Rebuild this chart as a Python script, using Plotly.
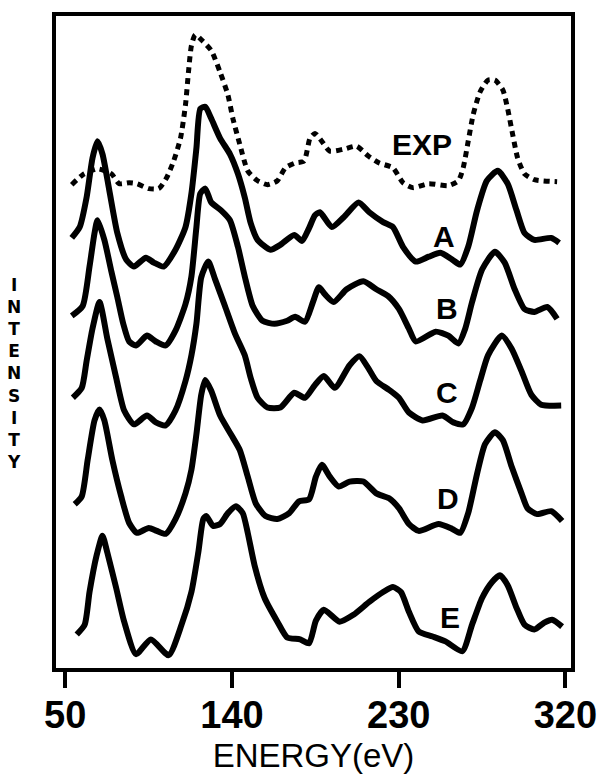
import plotly.graph_objects as go

# Photoemission-type spectra: experiment (dotted) and five model curves A-E.
# Intensities are in arbitrary units; each curve carries its own vertical offset.

exp_energy = [53.5, 59.4, 67.4, 74.9, 79.1, 84.5, 88.7, 95.1, 100.5, 104.7, 108.5, 112.2, 114.9, 116.5,
              118.1, 120.2, 123.4, 128.8, 133.6, 137.8, 140.5, 144.2, 148.5, 153.8, 159.2, 164.5, 168.8,
              174.1, 178.9, 182.1, 184.8, 188.5, 192.8, 200.3, 207.2, 213.6, 219.5, 226.9, 232.3, 237.6,
              246.2, 256.8, 262.2, 264.8, 267.5, 270.2, 273.9, 278.2, 281.9, 286.2, 288.8, 291.5, 294.2,
              297.9, 303.2, 315.5]
exp_intensity = [490, 500, 506, 501, 491, 492, 491, 486, 486, 497, 514, 537, 571, 604, 631, 642, 637, 626,
                 604, 581, 557, 531, 504, 494, 490, 494, 507, 512, 514, 537, 542, 534, 524, 526, 529, 519,
                 512, 507, 492, 487, 491, 489, 494, 507, 534, 561, 584, 596, 596, 586, 567, 541, 517, 501,
                 495, 493]

a_energy = [53.5, 57.8, 61.5, 64.7, 67.4, 70.1, 73.8, 78.1, 82.9, 87.1, 93.5, 97.8, 103.1, 109.5, 114.9,
            118.1, 120.8, 122.9, 125.6, 128.8, 133.6, 138.9, 143.2, 146.9, 150.1, 153.8, 160.8, 166.1,
            173.6, 177.8, 181.6, 184.8, 187.5, 193.9, 200.3, 208.3, 214.1, 221.6, 226.9, 232.3, 239.2,
            246.2, 252.5, 258.9, 263.2, 267.5, 272.3, 277.6, 283.5, 288.8, 293.6, 297.9, 303.2, 312.3, 316.6]
a_intensity = [436, 447, 477, 517, 534, 521, 484, 441, 414, 407, 416, 411, 407, 424, 447, 481, 527, 567,
               569, 557, 537, 521, 501, 477, 451, 434, 424, 429, 439, 433, 446, 459, 462, 447, 457, 472,
               462, 452, 447, 427, 412, 417, 421, 414, 409, 427, 464, 494, 504, 491, 464, 441, 434, 436, 431]

b_energy = [53.5, 59.4, 63.1, 65.8, 67.4, 71.1, 74.9, 78.1, 81.3, 84.5, 88.2, 94.1, 98.9, 104.2, 109.5,
            114.9, 118.1, 120.8, 122.9, 125.6, 128.8, 134.1, 138.9, 143.2, 146.9, 151.2, 156.5, 162.9,
            169.8, 174.1, 179.4, 183.7, 186.9, 190.1, 194.9, 201.9, 210.9, 217.9, 224.3, 230.1, 235.5,
            239.2, 249.9, 256.8, 262.2, 265.9, 269.6, 275.0, 281.9, 287.2, 292.6, 297.9, 303.2, 310.2, 315.5]
b_intensity = [357, 367, 407, 441, 454, 434, 402, 376, 349, 331, 327, 337, 331, 327, 342, 369, 397, 447,
               481, 486, 472, 464, 454, 427, 397, 367, 352, 349, 352, 356, 351, 371, 386, 379, 371, 384,
               392, 384, 377, 364, 344, 331, 341, 337, 329, 344, 371, 404, 422, 411, 384, 364, 361, 366, 354]

c_energy = [54.1, 58.9, 61.5, 64.7, 68.5, 72.7, 77.5, 81.8, 87.1, 94.1, 98.9, 104.2, 109.5, 114.9, 118.1,
            120.8, 123.4, 127.2, 130.9, 136.2, 141.6, 146.9, 150.1, 153.8, 159.2, 166.1, 173.6, 179.4,
            184.8, 189.6, 195.5, 203.5, 208.8, 213.6, 217.9, 224.8, 230.1, 235.5, 242.9, 253.6, 259.5,
            264.8, 269.6, 273.9, 278.2, 285.6, 290.9, 296.3, 301.6, 306.9, 317.7]
c_intensity = [274, 284, 311, 344, 371, 334, 294, 261, 247, 256, 249, 246, 261, 291, 317, 349, 396, 412,
               394, 367, 339, 317, 294, 274, 264, 264, 279, 274, 287, 296, 284, 307, 316, 304, 291, 282,
               274, 259, 251, 256, 249, 247, 264, 291, 317, 337, 324, 301, 277, 267, 266]

d_energy = [55.1, 58.9, 62.1, 65.8, 68.5, 71.1, 75.4, 80.2, 84.5, 88.7, 95.1, 99.4, 104.2, 109.5, 114.9,
            118.1, 120.8, 123.4, 125.6, 128.8, 133.6, 139.4, 144.2, 148.5, 152.8, 158.1, 164.5, 170.9,
            176.2, 181.6, 185.3, 188.5, 192.8, 197.6, 203.5, 210.9, 217.9, 224.8, 230.1, 235.5, 240.8,
            251.5, 258.9, 263.2, 267.5, 272.3, 276.6, 281.9, 286.2, 291.0, 296.3, 299.5, 304.8, 312.3, 318.2]
d_intensity = [166, 174, 211, 251, 262, 251, 211, 174, 147, 137, 142, 139, 136, 151, 177, 201, 237, 277,
               292, 281, 256, 237, 221, 194, 167, 154, 151, 157, 169, 171, 194, 206, 194, 184, 189, 189,
               177, 172, 162, 146, 139, 146, 141, 137, 157, 197, 227, 239, 231, 204, 177, 162, 156, 159, 149]

e_energy = [56.2, 60.5, 63.1, 66.9, 70.1, 72.7, 77.5, 81.8, 88.2, 96.2, 105.8, 112.8, 118.1, 121.8, 124.5,
            126.1, 129.8, 133.6, 137.8, 142.1, 145.8, 148.5, 152.2, 157.6, 164.5, 169.8, 176.8, 181.6,
            185.3, 189.6, 198.1, 205.6, 214.1, 221.6, 226.9, 231.2, 235.5, 240.8, 248.3, 255.2, 264.3,
            269.6, 275.0, 280.3, 284.6, 288.8, 293.6, 297.9, 303.2, 308.6, 312.8, 318.2]
e_intensity = [34, 44, 77, 114, 134, 117, 81, 47, 14, 29, 13, 44, 77, 117, 151, 154, 144, 146, 157, 164,
               157, 137, 104, 71, 47, 31, 29, 25, 48, 59, 47, 54, 67, 77, 82, 77, 57, 37, 32, 27, 17, 44,
               71, 87, 94, 84, 61, 44, 39, 46, 49, 42]

# Curve labels and where they sit (energy, intensity)
label_text = ["EXP", "A", "B", "C", "D", "E"]
label_energy = [242.5, 254.2, 256.3, 256.3, 256.8, 257.9]
label_intensity = [531, 437, 364, 279, 172, 51]

tick_values = [50, 140, 230, 320]
tick_labels = ["50", "140", "230", "320"]

FONT = "Liberation Sans, Arial, sans-serif"

fig = go.Figure()

fig.add_trace(go.Scatter(x=exp_energy, y=exp_intensity, mode="lines",
                         line=dict(color="black", width=5, dash="6px,5px", shape="spline", smoothing=0.6),
                         showlegend=False, hoverinfo="skip"))

for xs, ys in [(a_energy, a_intensity), (b_energy, b_intensity), (c_energy, c_intensity),
               (d_energy, d_intensity), (e_energy, e_intensity)]:
    fig.add_trace(go.Scatter(x=xs, y=ys, mode="lines",
                             line=dict(color="black", width=6, shape="spline", smoothing=0.6),
                             showlegend=False, hoverinfo="skip"))

for txt, lx, ly in zip(label_text, label_energy, label_intensity):
    fig.add_annotation(x=lx, y=ly, text=f"<b>{txt}</b>", showarrow=False,
                       font=dict(family=FONT, size=30, color="black"))

# Vertical, letter-stacked y-axis caption
fig.add_annotation(xref="paper", yref="paper", x=-0.081, y=0.452, xanchor="center", yanchor="middle",
                   text="<br>".join(f"<b>{ch}</b>" for ch in "INTENSITY"), showarrow=False,
                   font=dict(family="DejaVu Sans, sans-serif", size=17, color="black"))

fig.update_layout(
    width=609, height=781,
    margin=dict(l=56, r=32, t=13, b=107),
    paper_bgcolor="white", plot_bgcolor="white",
    xaxis=dict(range=[45.0, 323.0], tickvals=tick_values, ticktext=tick_labels,
               ticks="outside", ticklen=16, tickwidth=4, tickcolor="black",
               ticklabelstandoff=-6,
               showline=True, linewidth=4, linecolor="black", mirror=True,
               showgrid=False, zeroline=False,
               tickfont=dict(family=FONT, size=38, color="black", weight="bold"),
               title=dict(text="ENERGY(eV)", standoff=10,
                          font=dict(family=FONT, size=33, color="black"))),
    yaxis=dict(range=[0, 661], showticklabels=False, ticks="", showgrid=False, zeroline=False,
               showline=True, linewidth=4, linecolor="black", mirror=True),
)

fig.write_html("out.html")
